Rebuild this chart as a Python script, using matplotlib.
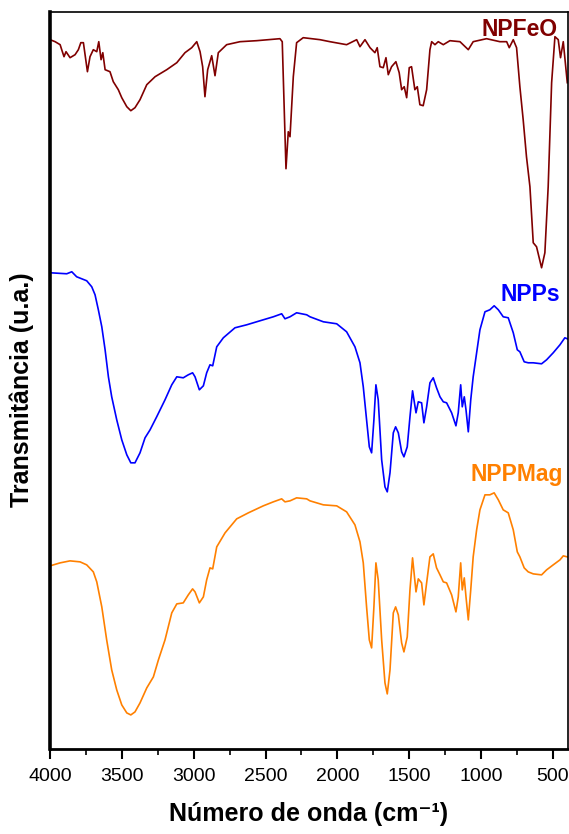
import matplotlib
matplotlib.use("Agg")
import matplotlib.pyplot as plt
from matplotlib.ticker import MultipleLocator

plt.rcParams['font.family'] = ['Liberation Sans', 'DejaVu Sans']

# FTIR spectra (wavenumber in cm-1, transmittance in a.u., already offset)
wn_npfeo = [4000, 3965, 3930, 3919, 3903, 3889, 3861, 3826, 3803, 3786, 3768, 3740, 3722, 3699,
            3675, 3661, 3645, 3633, 3617, 3583, 3560, 3525, 3501, 3466, 3438, 3409, 3374, 3327,
            3269, 3188, 3118, 3061, 3014, 2979, 2956, 2938, 2922, 2903, 2875, 2852, 2829, 2771,
            2678, 2562, 2400, 2384, 2358, 2342, 2330, 2307, 2284, 2238, 2121, 2052, 1936, 1866,
            1843, 1808, 1773, 1739, 1723, 1704, 1681, 1662, 1646, 1623, 1593, 1570, 1553, 1535,
            1518, 1500, 1484, 1461, 1444, 1426, 1403, 1379, 1356, 1344, 1321, 1298, 1263, 1217,
            1147, 1089, 1055, 962, 869, 822, 804, 776, 753, 730, 707, 684, 660, 637, 614, 579,
            556, 533, 509, 486, 463, 447, 428, 400]
t_npfeo = [70.9, 70.7, 70.4, 69.9, 69.2, 69.7, 69.1, 69.4, 69.9, 70.6, 70.6, 67.7, 69.2, 69.9,
           69.7, 70.7, 68.9, 69.6, 67.9, 67.7, 66.7, 65.9, 65.1, 64.2, 63.8, 64.1, 64.9, 66.4,
           67.2, 67.9, 68.6, 69.6, 70.1, 70.7, 69.7, 68.2, 65.2, 67.9, 69.3, 67.3, 69.6, 70.4,
           70.7, 70.8, 71.0, 70.7, 58.0, 61.7, 61.2, 67.2, 70.6, 71.1, 70.9, 70.7, 70.4, 70.9,
           70.2, 70.9, 70.1, 69.6, 70.1, 68.2, 68.1, 69.1, 67.4, 68.2, 68.7, 67.6, 65.9, 66.2,
           65.1, 68.1, 68.2, 65.9, 66.2, 64.4, 64.3, 65.9, 69.9, 70.7, 70.4, 70.7, 70.4, 70.8,
           70.7, 69.9, 70.7, 71.0, 70.7, 70.7, 70.1, 70.9, 70.1, 66.2, 62.9, 59.2, 56.2, 50.6,
           50.2, 48.1, 49.6, 56.2, 66.6, 71.2, 70.9, 69.1, 70.7, 66.6]

wn_npps = [4000, 3884, 3849, 3815, 3745, 3710, 3687, 3664, 3640, 3617, 3594, 3571, 3536, 3501,
           3466, 3438, 3409, 3374, 3339, 3304, 3258, 3200, 3153, 3118, 3073, 3038, 3008, 2991,
           2961, 2933, 2910, 2887, 2868, 2840, 2794, 2713, 2631, 2539, 2446, 2388, 2365, 2330,
           2284, 2214, 2191, 2098, 2005, 1936, 1878, 1843, 1820, 1797, 1778, 1762, 1746, 1732,
           1716, 1692, 1669, 1653, 1634, 1611, 1595, 1576, 1553, 1537, 1514, 1495, 1477, 1453,
           1437, 1414, 1398, 1379, 1356, 1333, 1310, 1286, 1263, 1240, 1205, 1175, 1159, 1142,
           1131, 1117, 1105, 1089, 1072, 1055, 1031, 1008, 973, 939, 909, 880, 846, 811, 776,
           748, 730, 700, 672, 637, 579, 544, 498, 451, 417, 400]
t_npps = [47.6, 47.5, 47.7, 47.2, 46.8, 46.2, 45.4, 43.9, 42.2, 39.9, 37.2, 35.2, 32.9, 30.9,
          29.4, 28.6, 28.6, 29.6, 31.1, 31.9, 33.2, 34.9, 36.4, 37.2, 37.1, 37.4, 37.6, 37.2,
          35.9, 36.3, 37.6, 38.4, 38.3, 40.2, 41.1, 42.1, 42.4, 42.8, 43.2, 43.5, 43.0, 43.2,
          43.6, 43.4, 43.2, 42.7, 42.5, 41.7, 40.2, 38.6, 36.2, 32.9, 30.2, 29.6, 32.9, 36.4,
          34.9, 28.9, 26.2, 25.7, 27.6, 31.6, 32.2, 31.6, 29.7, 29.2, 30.2, 33.2, 35.8, 33.6,
          34.7, 34.6, 32.6, 34.2, 36.6, 37.1, 36.1, 35.2, 34.7, 34.6, 33.6, 32.3, 33.6, 36.4,
          34.2, 35.2, 33.9, 31.7, 34.9, 37.2, 39.6, 41.9, 43.7, 43.9, 44.3, 43.9, 43.2, 43.1, 41.6,
          39.9, 39.7, 38.7, 38.6, 38.6, 38.5, 38.9, 39.6, 40.4, 41.1, 41.0]

wn_nppmag = [4000, 3930, 3861, 3791, 3745, 3699, 3675, 3640, 3606, 3571, 3536, 3501, 3466, 3438,
             3409, 3374, 3327, 3281, 3246, 3200, 3153, 3118, 3073, 3038, 3008, 2991, 2961, 2933,
             2910, 2887, 2868, 2840, 2782, 2701, 2620, 2516, 2446, 2388, 2365, 2330, 2284, 2214,
             2191, 2098, 2005, 1936, 1878, 1843, 1820, 1797, 1778, 1762, 1746, 1732, 1716, 1692,
             1669, 1653, 1634, 1611, 1595, 1576, 1553, 1537, 1514, 1495, 1477, 1453, 1437, 1414,
             1398, 1379, 1356, 1333, 1310, 1286, 1263, 1240, 1205, 1175, 1159, 1142, 1131, 1117,
             1105, 1089, 1072, 1055, 1031, 1008, 973, 939, 909, 880, 846, 811, 776, 748, 730, 700,
             672, 637, 579, 544, 498, 451, 428, 400]
t_nppmag = [18.3, 18.6, 18.8, 18.7, 18.4, 17.7, 16.7, 14.2, 10.9, 7.9, 5.9, 4.4, 3.6, 3.4,
            3.7, 4.6, 6.1, 7.2, 8.9, 10.9, 13.6, 14.5, 14.6, 15.4, 16.0, 15.7, 14.6, 15.2,
            16.9, 18.1, 18.0, 20.2, 21.6, 23.0, 23.6, 24.3, 24.7, 25.0, 24.7, 24.8, 25.1, 25.0,
            24.8, 24.4, 24.3, 23.7, 22.4, 20.7, 18.6, 14.2, 10.9, 10.1, 14.2, 18.6, 16.9, 10.9,
            6.6, 5.5, 7.9, 13.6, 14.2, 13.4, 10.6, 9.7, 11.2, 15.9, 19.1, 15.7, 17.0, 16.6,
            14.4, 16.6, 19.2, 19.5, 18.1, 17.4, 16.7, 16.6, 15.4, 13.7, 15.2, 18.6, 15.9, 17.1,
            15.2, 12.9, 15.9, 19.2, 21.9, 23.9, 25.4, 25.4, 25.6, 24.9, 23.9, 23.6, 21.9, 19.7,
            19.2, 18.1, 17.7, 17.5, 17.4, 17.9, 18.4, 18.9, 19.3, 19.2]

names = ["NPFeO", "NPPs", "NPPMag"]
colors = ["#800000", "#0000ff", "#ff8000"]

fig = plt.figure(figsize=(5.69, 8.34), dpi=100)
ax = fig.add_axes([0.088, 0.102, 0.910, 0.884])

ax.plot(wn_npfeo, t_npfeo, color=colors[0], lw=1.2)
ax.plot(wn_npps, t_npps, color=colors[1], lw=1.2)
ax.plot(wn_nppmag, t_nppmag, color=colors[2], lw=1.2)

ax.set_xlim(4000, 396)
ax.set_ylim(0, 73.7)
ax.set_yticks([])
ax.xaxis.set_major_locator(MultipleLocator(500))
ax.xaxis.set_minor_locator(MultipleLocator(250))
ax.tick_params(axis='x', which='major', direction='out', length=7, width=1.5,
               labelsize=14, pad=7)
ax.tick_params(axis='x', which='minor', direction='out', length=4, width=1.2)
ax.spines['top'].set_linewidth(1.2)
ax.spines['right'].set_linewidth(1.2)
ax.spines['left'].set_linewidth(2.6)
ax.spines['bottom'].set_linewidth(2.0)

ax.text(0.981, 0.992, names[0], transform=ax.transAxes, ha='right', va='top',
        color=colors[0], fontsize=16.5, fontweight='bold')
ax.text(0.985, 0.632, names[1], transform=ax.transAxes, ha='right', va='top',
        color=colors[1], fontsize=16.5, fontweight='bold')
ax.text(0.99, 0.388, names[2], transform=ax.transAxes, ha='right', va='top',
        color=colors[2], fontsize=16.5, fontweight='bold')

ax.set_xlabel("Número de onda (cm⁻¹)", fontsize=18, fontweight='bold', labelpad=12)
ax.set_ylabel("Transmitância (u.a.)", fontsize=18, fontweight='bold')
ax.yaxis.set_label_coords(-0.031, 0.487)

fig.savefig("out.png", dpi=100)
